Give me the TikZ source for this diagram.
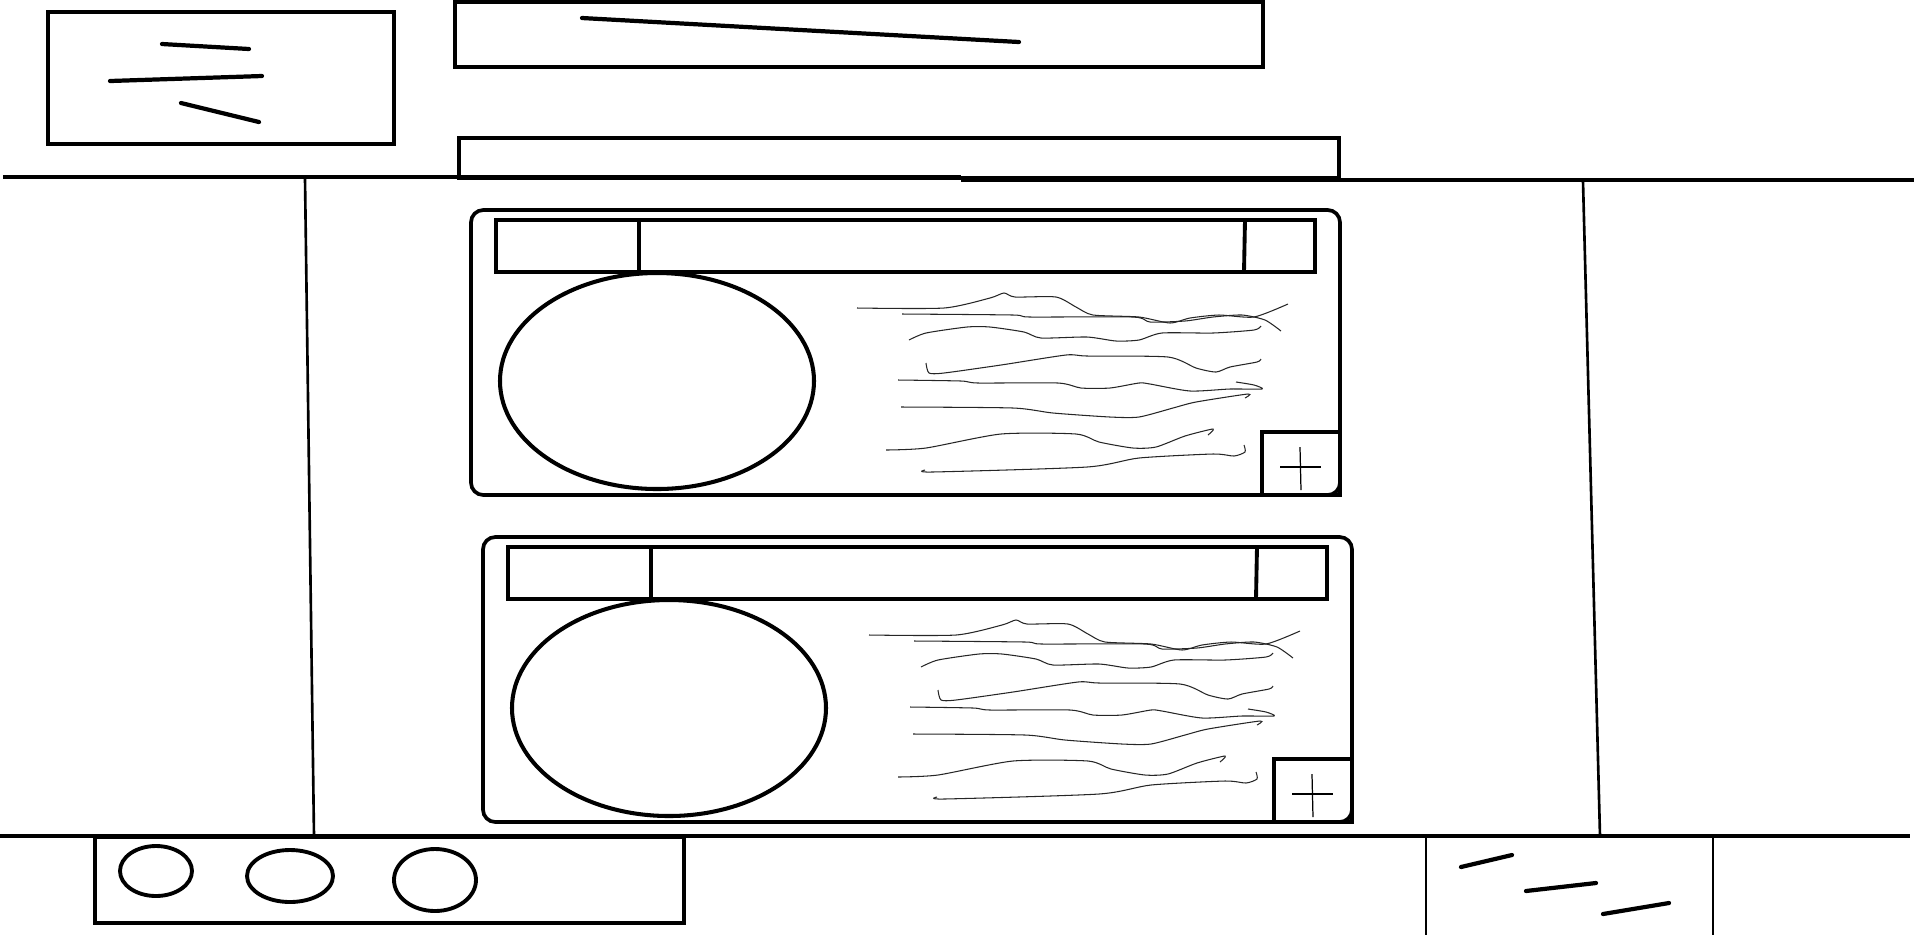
\documentclass[tikz,border=0pt]{standalone}
\usetikzlibrary{calc}
\tikzset{
  frame/.style={draw=black, line width=1.1pt},
  rule/.style={draw=black, line width=1.2pt},
  post/.style={draw=black, line width=0.75pt},
  card/.style={draw=black, line width=1.05pt, rounded corners=3.5pt},
  headbar/.style={draw=black, line width=1.1pt},
  photo/.style={draw=black, line width=1.15pt},
  penline/.style={draw=black, line width=1.2pt, line cap=round},
  squig/.style={draw=black!85, line width=0.3pt},
  thinpen/.style={draw=black, line width=0.35pt}
}
\begin{document}
\begin{tikzpicture}[x=0.01cm, y=-0.01cm]
  \useasboundingbox (0,0) rectangle (1914,935);

  % top boxes
  \draw[frame] (48,12) rectangle (394,144);
  \draw[penline] (162,44) -- (249,49);
  \draw[penline] (110,81) -- (262,76);
  \draw[penline] (181,103) -- (259,122);

  \draw[frame] (455,2) rectangle (1263,67);
  \draw[penline] (582,18) -- (1019,42);

  \draw[frame] (459,138) rectangle (1339,178);

  % shelf lines
  \draw[rule] (3,177) -- (961,177);
  \draw[rule] (961,180) -- (1914,180);
  \draw[post] (305,178) -- (314,836);
  \draw[post] (1583,181) -- (1600,836);
  \draw[rule] (0,836) -- (1910,836);

  % cards
  \foreach \dx/\dy in {0/0, 12/327} {
    \begin{scope}[shift={(\dx,\dy)}]
      \draw[card] (471,210) rectangle (1340,495);
      \draw[headbar] (496,220) rectangle (1315,272);
      \draw[headbar] (639,220) -- (639,272);
      \draw[headbar] (1245,220) -- (1244,272);
      \draw[photo] (657,381) ellipse (157 and 108);
      \draw[frame] (1262,432) -- (1340,432) -- (1340,495) -- (1262,495) -- cycle;
      \draw[thinpen] (1300,447) -- (1301,490);
      \draw[thinpen] (1280,467) -- (1321,467);
      % scribbled text
      \draw[squig] plot[smooth, tension=0.4] coordinates {(857,308) (944,308) (990,298) (1004,293) (1015,297) (1056,297) (1076,307) (1093,315) (1139,317) (1170,323) (1190,318) (1219,315) (1254,317) (1288,304)};
      \draw[squig] plot[smooth, tension=0.4] coordinates {(902,314) (1013,315) (1030,317) (1133,317) (1150,322) (1185,321) (1213,317) (1242,315) (1265,320) (1281,331)};
      \draw[squig] plot[smooth, tension=0.4] coordinates {(909,340) (926,333) (967,327) (990,327) (1024,332) (1041,338) (1087,337) (1116,341) (1139,340) (1162,333) (1213,333) (1254,330) (1261,326)};
      \draw[squig] plot[smooth, tension=0.4] coordinates {(926,363) (929,373) (944,373) (1001,365) (1066,355) (1087,356) (1168,357) (1196,368) (1216,372) (1230,367) (1257,362) (1261,359)};
      \draw[squig] plot[smooth, tension=0.4] coordinates {(898,380) (961,381) (978,383) (1058,383) (1081,388) (1110,388) (1139,383) (1150,384) (1190,391) (1230,389) (1262,389) (1254,385) (1236,382)};
      \draw[squig] plot[smooth, tension=0.4] coordinates {(901,407) (1013,408) (1053,413) (1110,417) (1139,417) (1173,408) (1196,402) (1248,394) (1245,398)};
      \draw[squig] plot[smooth, tension=0.4] coordinates {(886,450) (926,448) (1001,434) (1076,434) (1099,442) (1133,448) (1156,447) (1185,436) (1213,429) (1208,435)};
      \draw[squig] plot[smooth, tension=0.4] coordinates {(925,470) (932,472) (1087,467) (1139,458) (1213,454) (1234,456) (1245,452) (1244,445)};
    \end{scope}
  }

  % bottom left box
  \draw[frame] (95,837) rectangle (684,923);
  \draw[frame] (156,871) ellipse (36 and 25);
  \draw[frame] (290,876) ellipse (43 and 26);
  \draw[frame] (435,880) ellipse (41 and 31);

  % bottom right
  \draw[post] (1426,836) -- (1426,935);
  \draw[post] (1713,836) -- (1713,935);
  \draw[penline] (1461,867) -- (1512,855);
  \draw[penline] (1526,891) -- (1596,883);
  \draw[penline] (1603,914) -- (1669,903);
\end{tikzpicture}
\end{document}
